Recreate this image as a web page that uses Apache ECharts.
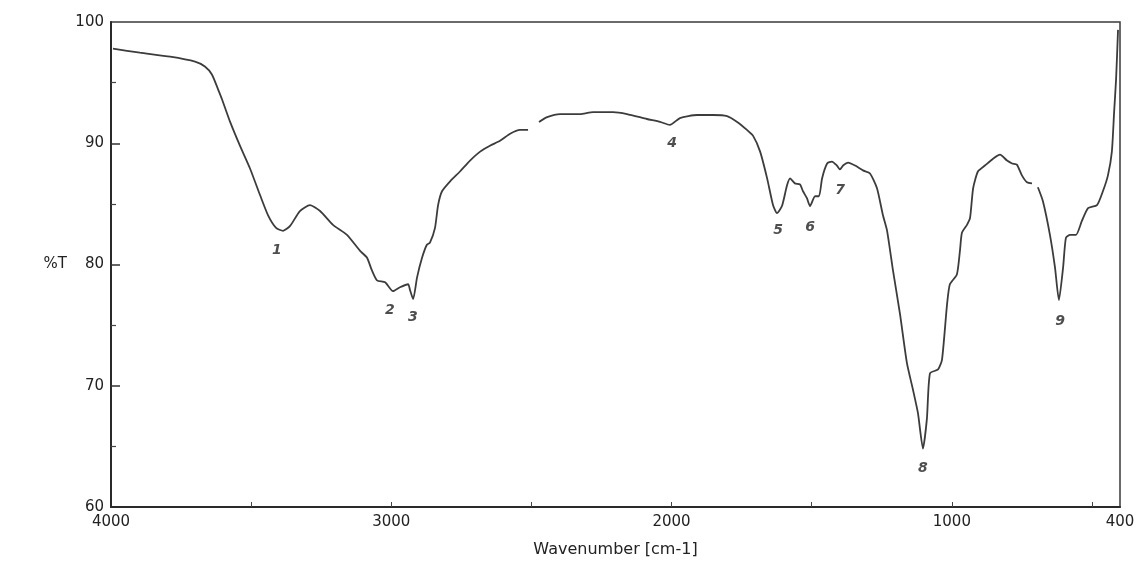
<!DOCTYPE html>
<html>
<head>
<meta charset="utf-8">
<script src="https://cdn.jsdelivr.net/npm/echarts@6/dist/echarts.min.js"></script>
<style>html,body{margin:0;padding:0;background:#fff}#chart{width:1140px;height:563px}</style>
</head>
<body>
<div id="chart"></div>
<script>
// Wavenumber (cm-1) and transmittance (%T); null = break in trace
const wavenumbers = [3993,3897,3789,3700,3665,3640,3618,3604,3575,3540,3504,3468,3440,3411,3386,3361,3326,3290,3254,3208,3158,3112,3087,3069,3051,3022,2994,2969,2940,2933,2922,2908,2890,2873,2862,2844,2833,2819,2790,2755,2719,2683,2648,2612,2576,2541,2512,2495,2473,2444,2398,2327,2280,2209,2159,2088,2041,2006,1970,1909,1852,1802,1766,1731,1709,1684,1659,1638,1624,1606,1588,1577,1560,1542,1531,1517,1506,1488,1474,1463,1445,1428,1410,1399,1388,1370,1345,1317,1292,1267,1246,1231,1210,1185,1160,1139,1121,1103,1089,1078,1049,1035,1017,1007,982,971,964,946,935,924,907,882,853,828,803,785,768,750,732,714,703,693,675,650,632,618,603,593,578,557,536,514,482,461,443,429,421,414,407];
const transmittance = [97.8,97.47,97.14,96.73,96.33,95.67,94.45,93.63,91.76,89.8,87.92,85.71,84.08,83.02,82.78,83.18,84.41,84.9,84.41,83.27,82.45,81.14,80.57,79.51,78.69,78.53,77.8,78.12,78.37,77.88,77.14,78.94,80.57,81.63,81.8,83.02,84.9,86.04,86.86,87.67,88.57,89.31,89.8,90.2,90.78,91.1,91.1,null,91.76,92.16,92.41,92.41,92.57,92.57,92.41,92.0,91.76,91.51,92.08,92.33,92.33,92.24,91.76,91.1,90.61,89.31,87.1,84.9,84.24,84.82,86.53,87.1,86.69,86.61,86.04,85.47,84.82,85.63,85.63,87.1,88.33,88.49,88.16,87.84,88.16,88.41,88.16,87.76,87.51,86.29,84.08,82.78,79.51,75.92,71.84,69.71,67.76,64.82,67.27,71.02,71.35,72.16,76.73,78.37,79.18,81.14,82.61,83.27,83.84,86.29,87.67,88.16,88.73,89.06,88.57,88.33,88.24,87.35,86.78,86.69,null,86.37,85.22,82.45,79.76,77.06,79.76,82.2,82.45,82.45,83.59,84.65,84.9,86.04,87.35,89.31,92.57,95.27,99.35];

// Peak annotations
const peakLabels = ['1','2','3','4','5','6','7','8','9'];
const peakX = [3408,3005,2923,1998,1620,1506,1399,1103,614];
const peakY = [81.14,76.24,75.67,89.96,82.78,83.1,86.12,63.18,75.27];

// Axis tick labels
const xLabelValues = [4000,3000,2000,1000,400];
const xTickValues = [3500,3000,2500,2000,1500,1000,500];
const yLabelValues = [60,70,80,90,100];
const yTickValues = [70,80,90];

const lineData = wavenumbers.map((w,i)=>[w, transmittance[i] === null ? '-' : transmittance[i]]);
const peakData = peakX.map((w,i)=>[w, peakY[i], peakLabels[i]]);

const font = 'DejaVu Sans';
const chart = echarts.init(document.getElementById('chart'), null, {renderer:'canvas'});
chart.setOption({
  backgroundColor:'#fff',
  animation:false,
  grid:{left:111,right:20,top:22,bottom:51,show:true,borderColor:'#3a3a3a',borderWidth:1.5,backgroundColor:'transparent'},
  xAxis:{
    type:'value', inverse:true, min:400, max:4000,
    name:'Wavenumber [cm-1]', nameLocation:'middle', nameGap:35,
    nameTextStyle:{fontFamily:font,fontSize:16,color:'#222'},
    axisLine:{show:true,onZero:false,lineStyle:{color:'#2a2a2a',width:2}},
    axisTick:{show:true,inside:true,length:5,customValues:xTickValues,lineStyle:{color:'#444',width:1}},
    axisLabel:{customValues:xLabelValues,formatter:v=>String(v),fontFamily:font,fontSize:15,color:'#222',margin:8},
    splitLine:{show:false}
  },
  yAxis:{
    type:'value', min:60, max:100, interval:10,
    name:'%T', nameLocation:'middle', nameRotate:0, nameGap:44,
    nameTextStyle:{fontFamily:font,fontSize:15,color:'#222',padding:[10,0,0,0]},
    axisLine:{show:true,onZero:false,lineStyle:{color:'#2a2a2a',width:2}},
    axisTick:{show:true,inside:true,length:9,customValues:yTickValues,lineStyle:{color:'#333',width:1.5}},
    minorTick:{show:true,splitNumber:2,length:5,lineStyle:{color:'#444',width:1.2}},
    axisLabel:{customValues:yLabelValues,formatter:v=>String(v),fontFamily:font,fontSize:15,color:'#222',margin:7},
    splitLine:{show:false}
  },
  series:[
    {
      type:'line', data:lineData, showSymbol:false, connectNulls:false, smooth:0.2,
      lineStyle:{color:'#3c3c3c',width:1.8}, silent:true
    },
    {
      type:'scatter', data:peakData, symbolSize:0, silent:true,
      label:{show:true,position:'inside',formatter:p=>p.data[2],fontFamily:font,fontSize:14,fontStyle:'italic',fontWeight:'bold',color:'#222'}
    }
  ]
});
</script>
</body>
</html>
